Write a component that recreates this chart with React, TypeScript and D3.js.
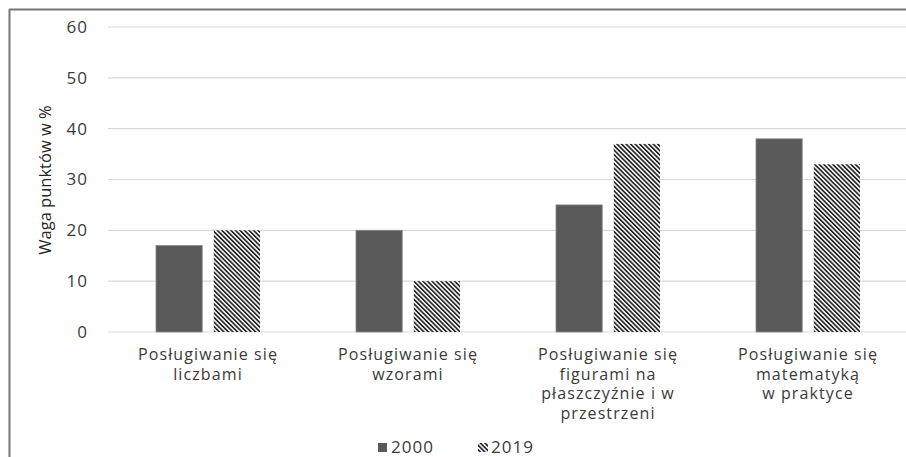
import * as d3 from 'd3'

const categories = [
  ['Posługiwanie się', 'liczbami'],
  ['Posługiwanie się', 'wzorami'],
  ['Posługiwanie się', 'figurami na', 'płaszczyźnie i w', 'przestrzeni'],
  ['Posługiwanie się', 'matematyką', 'w praktyce'],
]
const series = ['2000', '2019']
const values2000 = [17, 20, 25, 38]
const values2019 = [20, 10, 37, 33]
const yTicks = [0, 10, 20, 30, 40, 50, 60]

const W = 906
const H = 457
const FONT = '"Open Sans", sans-serif'
const TEXT = '#3a3a3a'

export default function App() {
  const x0 = d3.scaleBand<number>().domain(d3.range(categories.length)).range([108, 908]).paddingInner(0).paddingOuter(0)
  const x1 = d3.scaleBand<string>().domain(series).range([48, 152]).paddingInner(0.2)
  const y = d3.scaleLinear().domain([0, 60]).range([332, 27])
  const rows = categories.map((c, i) => ({ lines: c, vals: [values2000[i], values2019[i]] }))

  return (
    <svg width={W} height={H} style={{ position: 'fixed', left: 0, top: 0, background: '#fff' }}>
      <defs>
        <pattern id="hatch" width="3.2" height="3.2" patternUnits="userSpaceOnUse" patternTransform="rotate(-45)">
          <rect width="3.2" height="3.2" fill="#fff" />
          <rect width="1.7" height="3.2" fill="#262626" />
        </pattern>
      </defs>
      <rect x={0} y={0} width={W} height={H} fill="#fff" />
      <line x1={9.5} x2={9.5} y1={9} y2={H} stroke="#777" strokeWidth={2} />
      <line x1={9} x2={W} y1={9.5} y2={9.5} stroke="#777" strokeWidth={2} />

      {yTicks.map((t) => (
        <g key={t}>
          <line x1={108} x2={W} y1={y(t)} y2={y(t)} stroke="#d9d9d9" strokeWidth={1.2} />
          <text x={88} y={y(t)} dy="0.35em" textAnchor="end" fontFamily={FONT} fontSize={17} letterSpacing={1} fill={TEXT}>
            {t}
          </text>
        </g>
      ))}

      <text
        transform={`translate(45,180) rotate(-90)`}
        textAnchor="middle"
        dy="0.35em"
        fontFamily={FONT}
        fontSize={16.5}
        fill="#262626"
      >
        Waga punktów w %
      </text>

      {rows.map((r, i) => (
        <g key={i} transform={`translate(${x0(i)},0)`}>
          {r.vals.map((v, j) => (
            <rect
              key={j}
              x={x1(series[j])}
              y={y(v)}
              width={x1.bandwidth()}
              height={y(0) - y(v)}
              fill={j === 0 ? '#595959' : 'url(#hatch)'}
              stroke={j === 0 ? '#8a8a8a' : 'none'}
              strokeWidth={0.8}
            />
          ))}
          <text textAnchor="middle" fontFamily={FONT} fontSize={16} letterSpacing={1.1} fill={TEXT}>
            {r.lines.map((l, k) => (
              <tspan key={k} x={x0.bandwidth() / 2} y={360 + k * 19.5}>
                {l}
              </tspan>
            ))}
          </text>
        </g>
      ))}

      <g fontFamily={FONT} fontSize={17} letterSpacing={1} fill={TEXT}>
        <rect x={378} y={443} width={9} height={9} fill="#595959" />
        <text x={391} y={447} dy="0.35em">{series[0]}</text>
        <rect x={478} y={443} width={10} height={9} fill="url(#hatch)" />
        <text x={491} y={447} dy="0.35em">{series[1]}</text>
      </g>
    </svg>
  )
}
